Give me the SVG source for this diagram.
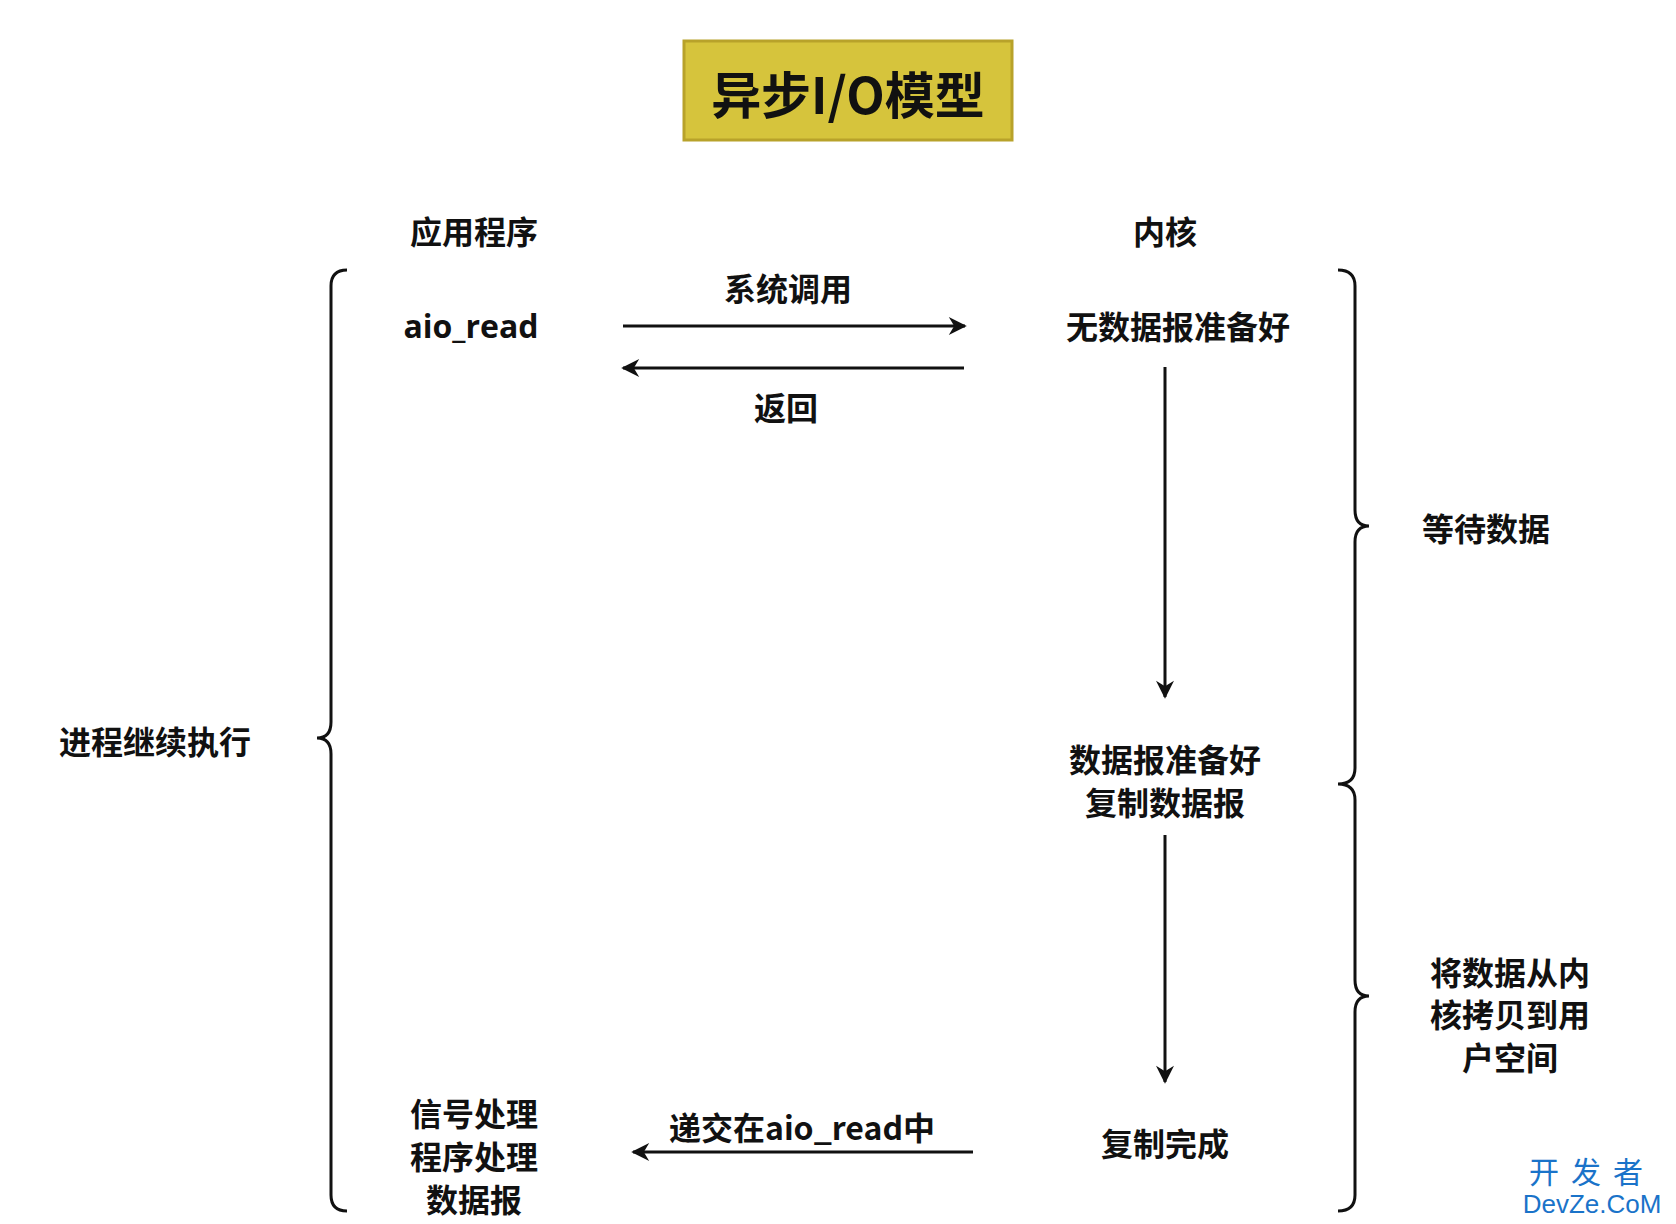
<svg xmlns="http://www.w3.org/2000/svg" width="1676" height="1224" viewBox="0 0 1676 1224">
<defs>
<style>
text{font-family:"Noto Sans CJK SC","Liberation Sans",sans-serif;font-weight:bold;font-size:32px;fill:#111;text-anchor:middle;dominant-baseline:central}
.l{stroke:#111;stroke-width:3;fill:none}
</style>
<marker id="a" viewBox="0 0 10 10" refX="9" refY="5" markerWidth="22" markerHeight="18" orient="auto" markerUnits="userSpaceOnUse"><path d="M0,0L10,5L0,10L3,5z" fill="#111"/></marker>
</defs>
<rect width="1676" height="1224" fill="#fff"/>
<g id="title"><rect x="684" y="41" width="328" height="99" fill="#D6C43C" stroke="#B8A22A" stroke-width="3"/><text x="848" y="92" style="font-size:50px">异步I/O模型</text></g>
<g id="app"><text x="474" y="230">应用程序</text></g>
<g id="kernel"><text x="1165" y="230">内核</text></g>
<g id="aio"><text x="471" y="325" style="font-family:'Open Sans','Liberation Sans',sans-serif">aio_read</text></g>
<g id="k1"><text x="1178" y="325">无数据报准备好</text></g>
<g id="k2"><text x="1165" y="758">数据报准备好</text><text x="1165" y="801">复制数据报</text></g>
<g id="k3"><text x="1165" y="1142">复制完成</text></g>
<g id="sig"><text x="474" y="1112">信号处理</text><text x="474" y="1155">程序处理</text><text x="474" y="1198">数据报</text></g>
<g id="cont"><text x="155" y="740">进程继续执行</text></g>
<g id="wait"><text x="1486" y="527">等待数据</text></g>
<g id="copy"><text x="1510" y="971">将数据从内</text><text x="1510" y="1013">核拷贝到用</text><text x="1510" y="1056">户空间</text></g>
<g id="connectors">
<line class="l" x1="623" y1="326" x2="965" y2="326" marker-end="url(#a)"/>
<text x="788" y="287">系统调用</text>
<line class="l" x1="964" y1="368" x2="623" y2="368" marker-end="url(#a)"/>
<text x="786" y="406">返回</text>
<line class="l" x1="1165" y1="367" x2="1165" y2="697" marker-end="url(#a)"/>
<line class="l" x1="1165" y1="835" x2="1165" y2="1082" marker-end="url(#a)"/>
<line class="l" x1="973" y1="1152" x2="633" y2="1152" marker-end="url(#a)"/>
<text x="802" y="1126">递交在aio_read中</text>
<path class="l" d="M347,270 Q331,270 331,286 L331,722 Q331,738 317,738 Q331,738 331,754 L331,1195 Q331,1211 347,1211"/>
<path class="l" d="M1338,270 Q1355,270 1355,286 L1355,510 Q1355,526 1369,526 Q1355,526 1355,542 L1355,768 Q1355,784 1338,784 Q1355,784 1355,800 L1355,980 Q1355,996 1369,996 Q1355,996 1355,1012 L1355,1195 Q1355,1211 1338,1211"/>
</g>
<text x="1592" y="1170" style="font-weight:normal;font-size:30px;fill:#1a73c9;letter-spacing:12px">开发者</text>
<text x="1592" y="1204" style="font-weight:normal;font-size:26px;fill:#1a73c9;font-family:'Liberation Sans',sans-serif">DevZe.CoM</text>
</svg>
